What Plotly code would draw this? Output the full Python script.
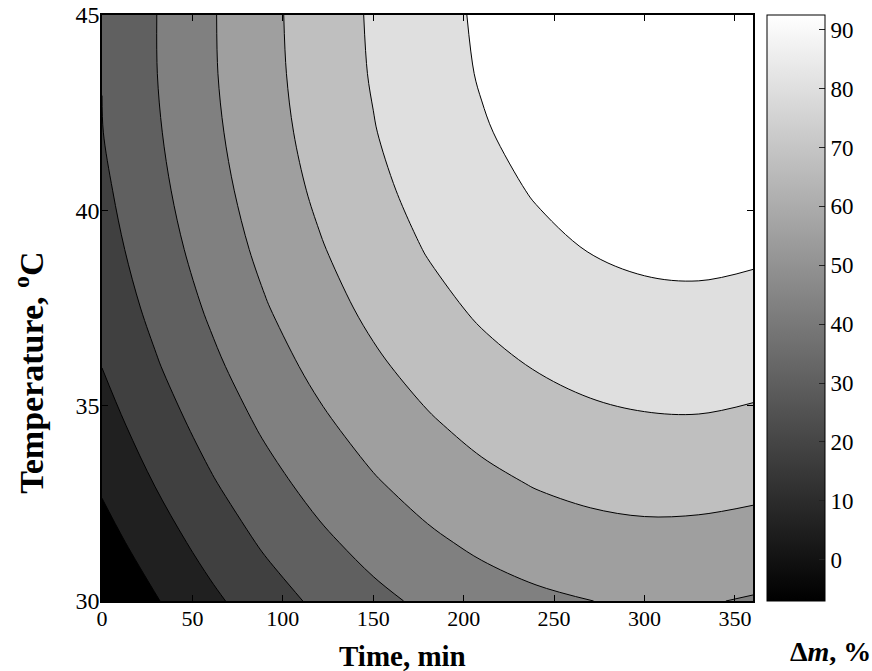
import plotly.graph_objects as go

# ---- data ----
time_min = [0, 30, 60, 90, 120, 150, 180, 210, 240, 270, 300, 330, 360]
temperature_C = [30, 31.5, 33, 34.5, 36, 37.5, 39, 40.5, 42, 43.5, 45]

# mass change Δm (%) on the grid: rows = temperature, columns = time
dm_T30_0 = [-7.0, 3.4, 12.8, 21.1, 28.3, 34.4, 39.4, 43.4, 46.3, 48.2, 49.0, 49.0, 47.5]
dm_T31_5 = [-0.4, 9.9, 19.2, 27.6, 34.9, 41.1, 46.3, 50.4, 53.4, 55.4, 56.3, 56.0, 54.8]
dm_T33_0 = [5.5, 15.6, 25.0, 33.5, 40.9, 47.2, 52.4, 56.7, 59.9, 62.0, 63.1, 63.0, 61.9]
dm_T34_5 = [10.7, 20.7, 30.2, 38.8, 46.2, 52.6, 58.0, 62.4, 65.6, 67.9, 69.1, 69.3, 68.2]
dm_T36_0 = [15.2, 25.3, 34.8, 43.5, 51.0, 57.5, 63.0, 67.5, 70.8, 73.2, 74.5, 74.8, 73.8]
dm_T37_5 = [18.9, 29.1, 38.7, 47.5, 55.1, 61.7, 67.3, 71.9, 75.3, 77.8, 79.2, 79.5, 78.7]
dm_T39_0 = [21.8, 32.2, 41.9, 50.8, 58.4, 65.1, 70.9, 75.5, 79.1, 81.7, 83.2, 83.6, 82.8]
dm_T40_5 = [24.1, 34.5, 44.3, 53.3, 61.1, 67.9, 73.7, 78.4, 82.1, 84.8, 86.4, 86.9, 86.2]
dm_T42_0 = [25.9, 36.1, 46.0, 55.1, 63.0, 69.9, 75.8, 80.6, 84.4, 87.1, 88.8, 89.5, 88.9]
dm_T43_5 = [26.3, 37.0, 47.0, 56.1, 64.1, 71.1, 77.1, 82.1, 85.9, 88.8, 90.6, 91.3, 90.8]
dm_T45_0 = [26.4, 37.1, 47.2, 56.5, 64.5, 71.6, 77.7, 82.8, 86.7, 89.7, 91.6, 92.4, 92.0]

dm_percent = [dm_T30_0, dm_T31_5, dm_T33_0, dm_T34_5, dm_T36_0, dm_T37_5,
              dm_T39_0, dm_T40_5, dm_T42_0, dm_T43_5, dm_T45_0]

# contour levels and colour range
level_start = 4.05
level_step = 11.05
level_end = 81.45
dm_min = -7.0
dm_max = 92.5

x_ticks = [0, 50, 100, 150, 200, 250, 300, 350]
y_ticks = [30, 35, 40, 45]
cbar_ticks = [0, 10, 20, 30, 40, 50, 60, 70, 80, 90]

# ---- figure ----
FONT = "Liberation Serif"
gray = [[0, "#000000"], [1, "#ffffff"]]

fig = go.Figure()

# continuous colour bar (hidden under the filled contours)
fig.add_trace(go.Heatmap(
    x=time_min, y=temperature_C, z=dm_percent,
    zmin=dm_min, zmax=dm_max, colorscale=gray, zsmooth="best",
    hoverinfo="skip",
    colorbar=dict(
        x=1.0213, xanchor="left", xpad=0, ypad=0,
        y=0.5, yanchor="middle", len=1.0, lenmode="fraction",
        thickness=58, thicknessmode="pixels",
        outlinecolor="black", outlinewidth=1,
        ticks="inside", ticklen=6, tickwidth=1, tickcolor="#222222",
        tickvals=cbar_ticks,
        tickfont=dict(family=FONT, size=23, color="black"),
    ),
))

fig.add_trace(go.Contour(
    x=time_min, y=temperature_C, z=dm_percent,
    colorscale=gray, showscale=False,
    autocontour=False,
    contours=dict(start=level_start, end=level_end, size=level_step,
                  coloring="fill", showlines=True),
    line=dict(color="black", width=1, smoothing=1.0),
    hoverinfo="skip",
))

axis_common = dict(
    showline=True, linecolor="black", linewidth=1.5, mirror="ticks",
    ticks="inside", ticklen=6, tickwidth=1, tickcolor="black",
    showgrid=False, zeroline=False, automargin=False,
)

fig.update_xaxes(range=[0, 360], tickvals=x_ticks, ticklabelstandoff=-3,
                 tickfont=dict(family=FONT, size=22, color="black"), **axis_common)
fig.update_yaxes(range=[30, 45], tickvals=y_ticks, ticklabelstandoff=-4,
                 tickfont=dict(family=FONT, size=24, color="black"), **axis_common)

fig.update_layout(
    width=872, height=671, autosize=False,
    margin=dict(l=102, r=112, t=15, b=70),
    paper_bgcolor="white", plot_bgcolor="white",
    font=dict(family=FONT, color="black"),
    showlegend=False,
    annotations=[
        dict(text="<b>Time, min</b>", xref="paper", yref="paper",
             x=0.4615, y=-0.094, xanchor="center", yanchor="middle",
             showarrow=False, font=dict(family=FONT, size=29, color="black")),
        dict(text="<b>Temperature, <sup>o</sup>C</b>", xref="paper", yref="paper",
             x=-0.1125, y=0.389, xanchor="center", yanchor="middle",
             textangle=-90, showarrow=False,
             font=dict(family=FONT, size=34, color="black")),
        dict(text="<b>Δ<i>m</i>, %</b>", xref="paper", yref="paper",
             x=1.119, y=-0.087, xanchor="center", yanchor="middle",
             showarrow=False, font=dict(family=FONT, size=28, color="black")),
    ],
)

fig.write_html("out.html", config={"displayModeBar": False},
               post_script="document.body.style.margin='0';")
